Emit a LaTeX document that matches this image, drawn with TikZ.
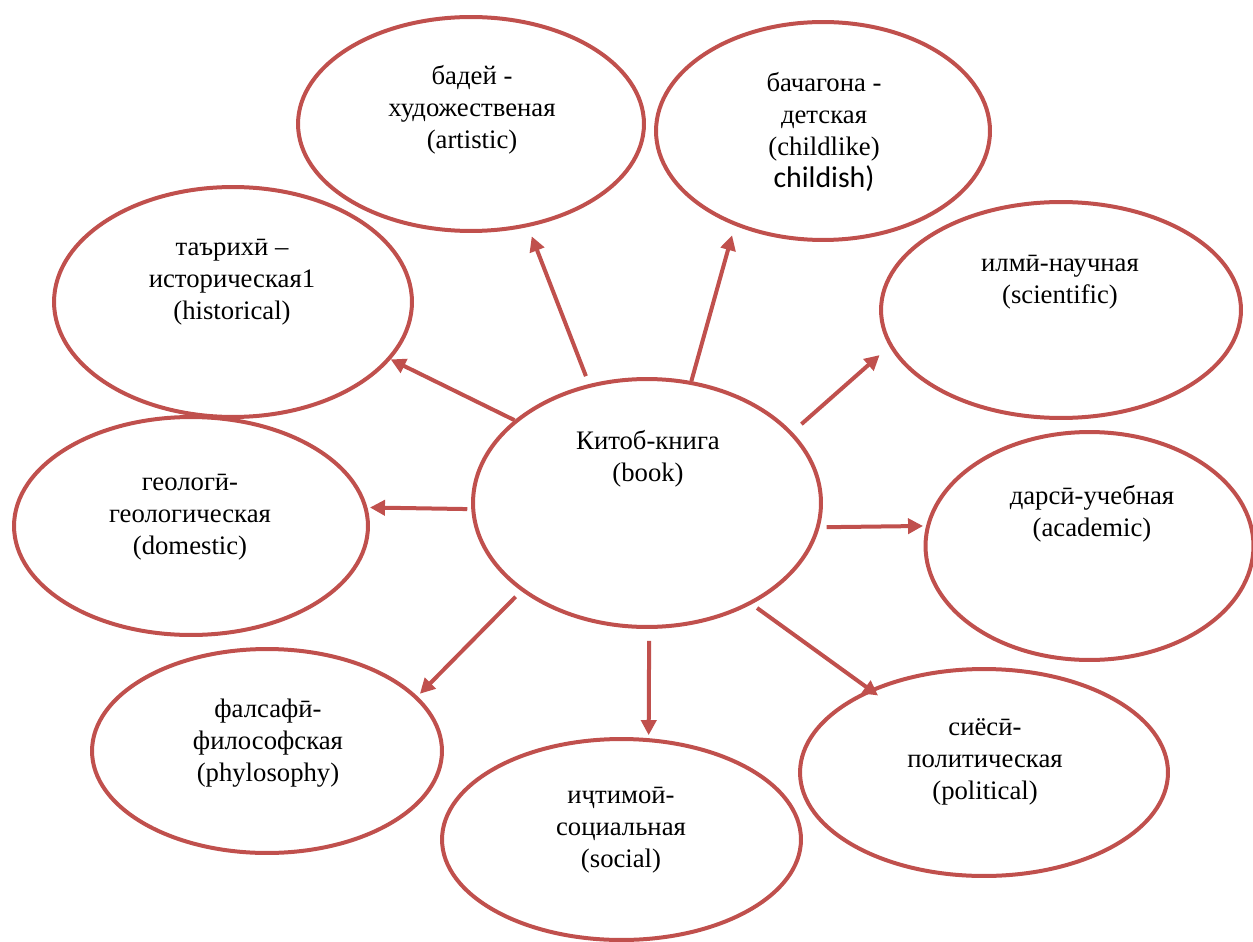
\documentclass[tikz,border=0pt]{standalone}
\usepackage{fontspec}
\setmainfont{Liberation Serif}
\newfontfamily\calibri{Carlito}
\usetikzlibrary{shapes.geometric,arrows.meta}
\definecolor{bubblered}{RGB}{192,80,77}

\begin{document}
\begin{tikzpicture}[x=0.02cm,y=-0.02cm,
	bubble/.style={draw=bubblered,line width=0.08cm,ellipse,inner sep=0pt},
	lbl/.style={align=center,inner sep=0pt,font=\fontsize{15.2}{18.1}\selectfont},
	arr/.style={draw=bubblered,line width=0.08cm,-{Triangle[length=0.3cm,width=0.3cm]}}]
\useasboundingbox (0,0) rectangle (1253,942);

%ellipses: name/x/y/width/height
\foreach \nm/\x/\y/\w/\h in {art/471/124/6.92/4.28, child/823/131/6.68/4.36,
	hist/233/302/7.16/4.60, sci/1061/310/7.20/4.32, book/647/503/6.96/4.96,
	geo/191/526/7.08/4.36, acad/1089.5/546/6.56/4.56, philo/267/751/7.00/4.08,
	social/621.5/839.5/7.18/4.02, polit/984/772.5/7.36/4.14}{
	\node [bubble,minimum width=\w cm,minimum height=\h cm] (\nm) at (\x,\y) {};
}

%labels
\node [lbl] (art-t) at (472,110) {бадей -\\художественая\\(artistic)};
\node [lbl] (child-t) at (824,132) {бачагона -\\детская\\(childlike)\\{\fontsize{17}{18.1}\selectfont\calibri childish)}};
\node [lbl] (hist-t) at (232,282) {таърихӣ –\\историческая1\\(historical)};
\node [lbl] (sci-t) at (1060,282) {илмӣ-научная\\(scientific)};
\node [lbl] (book-t) at (648,459) {Китоб-книга\\(book)};
\node [lbl] (geo-t) at (190,517) {геологӣ-\\геологическая\\(domestic)};
\node [lbl] (acad-t) at (1092,514) {дарсӣ-учебная\\(academic)};
\node [lbl] (philo-t) at (268,743) {фалсафӣ-\\философская\\(phylosophy)};
\node [lbl] (social-t) at (621,830) {иҷтимоӣ-\\социальная\\(social)};
\node [lbl] (polit-t) at (985,762) {сиёсӣ-\\политическая\\(political)};

%arrows: target/start angle/end angle/gap at start/gap at tip
\foreach \dst/\angs/\angd/\gs/\gd in {art/116/-61/0.17/0.2, child/70/-133/0/0.2,
	hist/148/-20/0/0, sci/26/-168/0.24/0.26, geo/182/6/0.08/0.05,
	acad/-8/173/0.14/0.06, philo/-145/20/0.16/0.07, social/-89/75/0.24/0.06,
	polit/-44/144/0.13/-0.21}{
	\draw [arr,shorten <=\gs cm,shorten >=\gd cm] (book.\angs) -- (\dst.\angd);
}
\end{tikzpicture}
\end{document}
